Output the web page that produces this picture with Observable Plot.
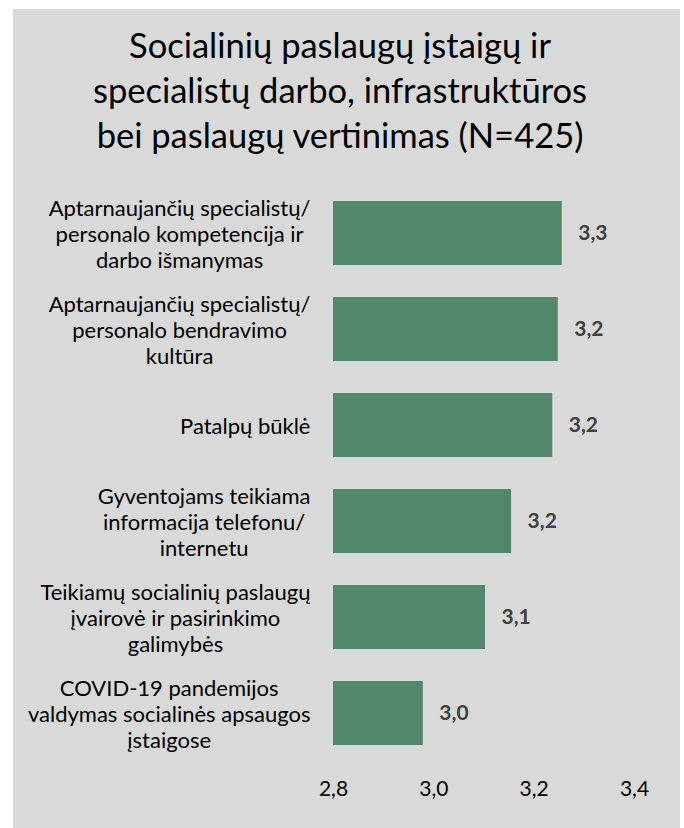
<!DOCTYPE html>
<html>
<head>
<meta charset="utf-8">
<script src="https://cdn.jsdelivr.net/npm/d3@7"></script>
<script src="https://cdn.jsdelivr.net/npm/@observablehq/plot@0.6"></script>
<style>
  html, body { margin: 0; padding: 0; background: #ffffff; width: 684px; height: 828px; overflow: hidden; }
  #bg { position: absolute; left: 13px; top: 9px; width: 667px; height: 819px; background: #d9d9d9; }
  #title { position: absolute; left: 0; top: 22px; width: 680px; text-align: center;
    font-family: Lato, "Open Sans", sans-serif; font-size: 34.5px; line-height: 45px; color: #000; }
  #chart { position: absolute; left: 0; top: 170px; }
</style>
</head>
<body>
<div id="bg"></div>
<div id="title">Socialinių paslaugų įstaigų ir<br>specialistų darbo, infrastruktūros<br>bei paslaugų vertinimas (N=425)</div>
<div id="chart"></div>
<script>
const categories = [
  "Aptarnaujančių specialistų/\npersonalo kompetencija ir\ndarbo išmanymas",
  "Aptarnaujančių specialistų/\npersonalo bendravimo\nkultūra",
  "Patalpų būklė",
  "Gyventojams teikiama\ninformacija telefonu/\ninternetu",
  "Teikiamų socialinių paslaugų\nįvairovė ir pasirinkimo\ngalimybės",
  "COVID-19 pandemijos\nvaldymas socialinės apsaugos\nįstaigose"
];
const values = [3.256, 3.248, 3.237, 3.155, 3.103, 2.979];
const xTicks = [2.8, 3.0, 3.2, 3.4];

const data = categories.map((c, i) => ({category: c, value: values[i]}));
const fmt = d => d3.format(".1f")(d).replace(".", ",");

const plot = Plot.plot({
  width: 684,
  height: 658,
  marginTop: 15,
  marginBottom: 67,
  marginLeft: 333,
  marginRight: 50,
  style: { background: "transparent", fontFamily: "Lato, 'Open Sans', sans-serif", color: "#000" },
  x: { domain: [2.8, 3.4], ticks: xTicks, tickFormat: fmt },
  y: { domain: categories, paddingInner: 1/3, paddingOuter: 1/6 },
  marks: [
    Plot.barX(data, { x1: 2.8, x2: "value", y: "category", fill: "#52876b" }),
    Plot.text(data, { x: "value", y: "category", text: d => fmt(d.value), textAnchor: "start", dx: 16,
      fontSize: 21, fontWeight: "bold", fill: "#404040" }),
    Plot.axisX({ ticks: xTicks, tickFormat: fmt, tickSize: 0, tickPadding: 20, fontSize: 21, fill: "#000", label: null }),
    Plot.axisY({ tickSize: 0, tickPadding: 23, fontSize: 22, lineHeight: 1.2, fill: "#000", label: null, textOverflow: null, lineWidth: Infinity })
  ]
});
document.getElementById("chart").appendChild(plot);

// center lines of each multi-line y label within its block (block right-aligned)
plot.querySelectorAll("g[aria-label='y-axis tick label'] text").forEach(t => {
  const bb = t.getBBox();
  const w = bb.width;
  t.setAttribute("text-anchor", "middle");
  const spans = t.querySelectorAll("tspan");
  if (spans.length) spans.forEach(s => s.setAttribute("x", -w / 2));
  else t.setAttribute("x", -w / 2 + (+t.getAttribute("x") || 0));
});
</script>
</body>
</html>
